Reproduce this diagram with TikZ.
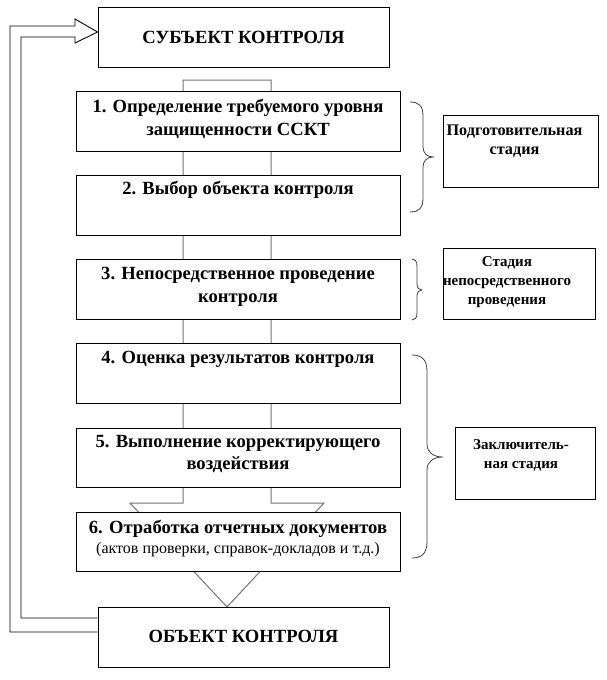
\documentclass[tikz,border=0pt]{standalone}
\usepackage{fontspec}
\setmainfont{Liberation Serif}
\begin{document}
\begin{tikzpicture}[x=1pt,y=-1pt,
  box/.style={draw=black,line width=0.9pt,fill=white,inner sep=0pt},
  btext/.style={font=\fontsize{18.6}{22.5}\selectfont\bfseries,align=center,inner sep=0pt},
  stext/.style={font=\fontsize{15}{19}\selectfont\bfseries,align=center,inner sep=0pt},
  brc/.style={draw=black!75,line width=0.8pt},
  shaft/.style={draw=black!55,line width=1pt},
  larrow/.style={draw=black,line width=0.9pt}
]
\useasboundingbox (0,0) rectangle (606,680);
\fill[white] (0,0) rectangle (606,680);

% big vertical block arrow (behind the boxes)
\draw[shaft] (183,503) -- (183,80) -- (271,80) -- (271,503) -- (324,503) -- (227,607) -- (130,503) -- cycle;

% main boxes
\node[box,minimum width=291pt,minimum height=60pt] (subj) at (243.5,37) {};
\node[box,minimum width=291pt,minimum height=60pt] (obj) at (243.5,637) {};
\node[box,minimum width=324pt,minimum height=60pt] (b1) at (238,121) {};
\node[box,minimum width=324pt,minimum height=60pt] (b2) at (238,205) {};
\node[box,minimum width=324pt,minimum height=60pt] (b3) at (238,289) {};
\node[box,minimum width=324pt,minimum height=60pt] (b4) at (238,373) {};
\node[box,minimum width=324pt,minimum height=59pt] (b5) at (238,457.5) {};
\node[box,minimum width=324pt,minimum height=59pt] (b6) at (238,541.5) {};

% side boxes
\node[box,minimum width=155pt,minimum height=72pt] (s1) at (520.5,151) {};
\node[box,minimum width=152pt,minimum height=71pt] (s2) at (519,283.5) {};
\node[box,minimum width=140pt,minimum height=72pt] (s3) at (525,463) {};

% texts
\node[btext] (tsubj) at (243.5,37) {СУБЪЕКТ КОНТРОЛЯ};
\node[btext] (tobj) at (243.5,636) {ОБЪЕКТ КОНТРОЛЯ};
\node[btext] (t1) at (238,119) {1. Определение требуемого уровня\\защищенности ССКТ};
\node[btext] (t2) at (238,190) {2. Выбор объекта контроля};
\node[btext] (t3) at (238,287) {3. Непосредственное проведение\\контроля};
\node[btext] (t4) at (238,359) {4. Оценка результатов контроля};
\node[btext] (t5) at (238,454) {5. Выполнение корректирующего\\воздействия};
\node[btext] (t6) at (238,529) {6. Отработка отчетных документов};
\node[font=\fontsize{16}{19}\selectfont,inner sep=0pt] (t6b) at (238,550) {(актов проверки, справок-докладов и т.д.)};

\node[stext,font=\fontsize{16.2}{19}\selectfont\bfseries] (ts1) at (514.5,141) {Подготовительная\\стадия};
\node[stext] (ts2) at (507,282) {Стадия\\непосредственного\\проведения};
\node[stext] (ts3) at (521,455) {Заключитель-\\ная стадия};

% braces
\draw[brc] (410,102) .. controls (419,102) and (423,106) .. (423,116) -- (423,147)
  .. controls (423,153) and (427,157) .. (433,157)
  .. controls (427,157) and (423,161) .. (423,167) -- (423,198)
  .. controls (423,208) and (419,212) .. (410,212);
\draw[brc] (412,259) .. controls (415,259) and (417,261) .. (417,266) -- (417,284)
  .. controls (417,288) and (419,290) .. (422,290)
  .. controls (419,290) and (417,292) .. (417,296) -- (417,313)
  .. controls (417,318) and (415,320) .. (412,320);
\draw[brc] (412,355) .. controls (421,355) and (427,359) .. (427,371) -- (427,444)
  .. controls (427,452) and (433,457) .. (443,457)
  .. controls (433,457) and (427,462) .. (427,470) -- (427,542)
  .. controls (427,554) and (421,558) .. (412,558);

% left feedback block arrow
\draw[larrow] (obj.west |- 0,632) -- (10,632) -- (10,26) -- (75,26) -- (75,19)
  -- (subj.west |- 0,32) -- (75,43) -- (75,37) -- (21,37) -- (21,618) -- (obj.west |- 0,618);
\end{tikzpicture}
\end{document}
